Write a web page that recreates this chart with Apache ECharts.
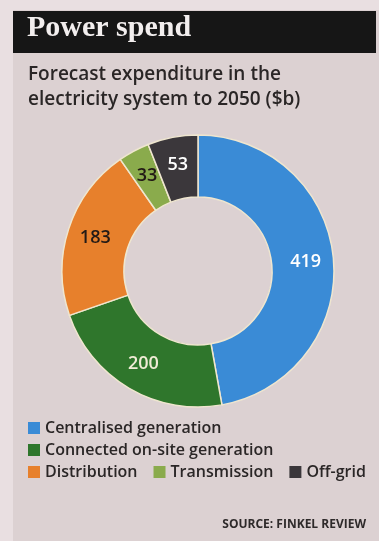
<!DOCTYPE html>
<html><head><meta charset="utf-8">
<script src="https://cdn.jsdelivr.net/npm/echarts@6/dist/echarts.min.js"></script>
<style>html,body{margin:0;padding:0;background:#e9dfe1;}#c{width:379px;height:541px;}</style>
</head><body><div id="c"></div>
<script>
const categories = ['Centralised generation','Connected on-site generation','Distribution','Transmission','Off-grid'];
const values = [419, 200, 183, 33, 53];
const colors = ['#3a8bd6','#2f762c','#e7802c','#8aab4c','#3b373b'];
const labelColors = ['#ffffff','#f0ecd6','#231a16','#231a16','#ffffff'];

const chart = echarts.init(document.getElementById('c'));
const sans = "'Open Sans','Noto Sans',sans-serif";
chart.setOption({
  backgroundColor: '#e9dfe1',
  animation: false,
  graphic: [
    {type:'rect', shape:{x:13,y:10,width:366,height:531}, style:{fill:'#dcd1d2'}, z:-10},
    {type:'rect', shape:{x:13,y:11,width:363,height:42}, style:{fill:'#161616'}, z:-5},
    {type:'text', left:27, top:13, style:{text:'Power spend', fill:'#f2eeee', font:"bold 30px 'Liberation Serif','DejaVu Serif',serif"}},
    {type:'text', left:28, top:62, style:{text:'Forecast expenditure in the\nelectricity system to 2050 ($b)', fill:'#2a2626', font:"600 19px " + sans, lineHeight:25}},
    {type:'text', right:13, top:519, style:{text:'SOURCE: FINKEL REVIEW', fill:'#2e2a2a', font:"bold 12px " + sans}}
  ],
  legend: [
    {data:[categories[0]], left:28, top:420},
    {data:[categories[1]], left:28, top:442},
    {data:categories.slice(2), left:28, top:464, itemGap:16}
  ].map(l => Object.assign({orient:'horizontal', icon:'rect', itemWidth:12, itemHeight:12, padding:0, width:350, itemStyle:{borderWidth:0}, textStyle:{fontSize:16, fontWeight:600, color:'#2a2626', fontFamily:sans}}, l)),
  series: [{
    type: 'pie',
    center: [198, 271],
    radius: [74, 136],
    startAngle: 90,
    clockwise: true,
    avoidLabelOverlap: false,
    itemStyle: {borderColor:'#efe6cf', borderWidth:1.5},
    label: {show:true, position:'inside', fontSize:18, fontWeight:600, fontFamily:sans, formatter:'{c}'},
    labelLine: {show:false},
    data: categories.map((n,i) => ({name:n, value:values[i], itemStyle:{color:colors[i]}, label:{color:labelColors[i]}}))
  }]
});
</script></body></html>
